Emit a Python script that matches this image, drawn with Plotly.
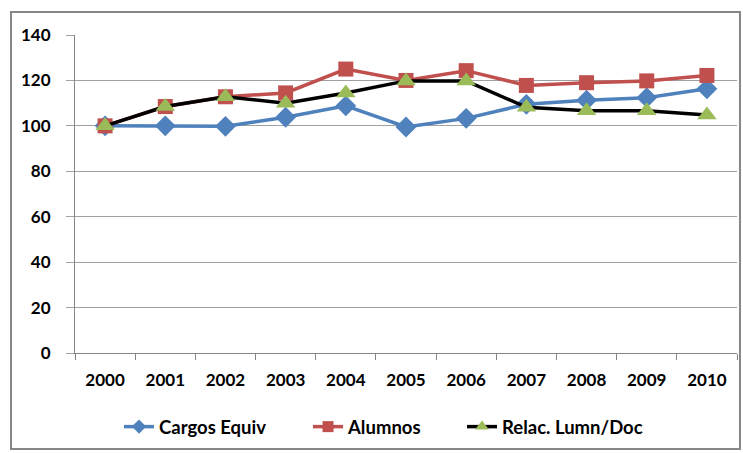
import plotly.graph_objects as go

# Index series (base year 2000 = 100)
years = ["2000", "2001", "2002", "2003", "2004", "2005", "2006", "2007", "2008", "2009", "2010"]
cargos_equiv = [100, 100, 99.8, 103.8, 108.8, 99.5, 103.3, 109.5, 111.3, 112.4, 116.3]
alumnos = [100, 108.5, 112.8, 114.5, 125.0, 120.0, 124.3, 117.8, 119.0, 119.8, 122.2]
relac_lumn_doc = [100, 108.5, 112.8, 110.0, 114.5, 119.8, 119.8, 108.2, 106.7, 106.6, 104.8]

y_ticks = [0, 20, 40, 60, 80, 100, 120, 140]

font_family = "Lato, Open Sans, sans-serif"

series = [
    # name, values, line colour, marker symbol, marker colour, plot size, legend size, legend id, legend x
    ("Cargos Equiv", cargos_equiv, "#4F81BD", "diamond", "#4F81BD", 16, 11, "legend", 0.0665),
    ("Alumnos", alumnos, "#C0504D", "square", "#C0504D", 15, 11, "legend2", 0.352),
    ("Relac. Lumn/Doc", relac_lumn_doc, "#000000", "triangle-up", "#9BBB59", 17, 12, "legend3", 0.5846),
]

fig = go.Figure()

for name, vals, lc, sym, mc, size, _, _, _ in series:
    fig.add_trace(go.Scatter(
        x=years, y=vals, name=name, mode="lines+markers", showlegend=False,
        line=dict(color=lc, width=3.5),
        marker=dict(symbol=sym, size=size, color=mc),
    ))

# Legend entries with smaller key markers, one legend box per series
legend_layout = {}
for name, _, lc, sym, mc, _, lsize, lid, lx in series:
    fig.add_trace(go.Scatter(
        x=[None], y=[None], name=name, mode="lines+markers", legend=lid,
        line=dict(color=lc, width=3.5),
        marker=dict(symbol=sym, size=lsize, color=mc),
    ))
    legend_layout[lid] = dict(
        orientation="h", x=lx, xanchor="left", y=-0.233, yanchor="middle",
        font=dict(family=font_family, size=18.5, color="#000000", weight="bold"),
        bgcolor="rgba(0,0,0,0)",
    )

fig.update_layout(
    width=743, height=453,
    margin=dict(l=75, r=6, t=35, b=100),
    paper_bgcolor="white", plot_bgcolor="white",
    font=dict(family=font_family, size=17, color="#000000"),
    showlegend=True,
    xaxis=dict(
        type="category", range=[-0.5, 10.5],
        showgrid=False, showline=True, linecolor="#868686", linewidth=1,
        ticks="outside", tickson="boundaries", ticklen=6, tickcolor="#868686",
        tickfont=dict(family=font_family, size=17, color="#000000", weight="bold"),
        ticklabelstandoff=12,
        zeroline=False,
    ),
    yaxis=dict(
        range=[0, 140], tickvals=y_ticks,
        showgrid=True, gridcolor="#A0A0A0", gridwidth=1,
        showline=True, linecolor="#868686", linewidth=1,
        ticks="outside", ticklen=8, tickcolor="#A0A0A0",
        tickfont=dict(family=font_family, size=17, color="#000000", weight="bold"),
        ticklabelstandoff=12,
        zeroline=False,
    ),
    shapes=[dict(
        type="rect", xref="paper", yref="paper",
        x0=-0.0967, x1=1.0045, y0=-0.302, y1=1.072,
        line=dict(color="#878787", width=2), fillcolor="rgba(0,0,0,0)", layer="below",
    )],
    **legend_layout,
)

fig.write_html("out.html")
